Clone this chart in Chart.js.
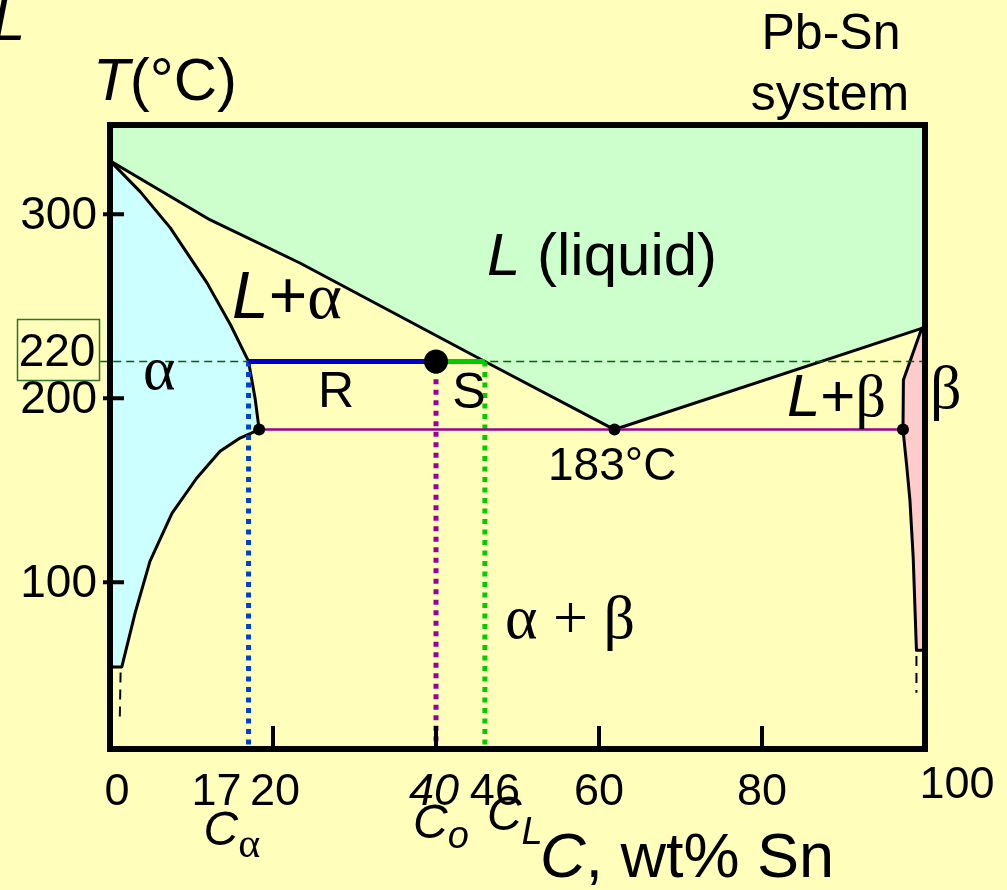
<!DOCTYPE html>
<html>
<head>
<meta charset="utf-8">
<title>Pb-Sn phase diagram</title>
<script src="https://cdn.jsdelivr.net/npm/chart.js@4.4.1/dist/chart.umd.min.js"></script>
<style>
  html, body { margin: 0; padding: 0; background: #ffffbb; }
  canvas { display: block; }
</style>
</head>
<body>
<canvas id="phase" width="1007" height="890"></canvas>
<script>
// Boundaries: composition in wt% Sn, temperature in °C
const liquidusC = [0, 12.3, 23.3, 46, 61.9, 99.6, 100];
const liquidusT = [329, 296.9, 273.5, 220, 183, 238, 238];

// alpha field: solidus down to the eutectic, then the solvus
const alphaC = [0, 3.7, 7.4, 11.9, 14.8, 17, 17.8, 18.3, 15.95, 13.5, 10.6, 7.6, 4.9, 3.1, 1.45, 0];
const alphaT = [329, 312.3, 292.6, 262.7, 239.8, 220, 200, 183, 178.4, 171.2, 156.4, 137.4, 111.4, 83.6, 54, 54];

// beta field
const betaC = [100, 99.6, 97.35, 97.3, 97.75, 98.15, 98.55, 98.95, 100];
const betaT = [238, 238, 209.9, 183, 163.5, 144.6, 113.5, 63, 63];

// dashed solvus continuations below the shaded fields
const alphaDashC = [1.3, 1.2];
const alphaDashT = [51, 26];
const betaDashC = [98.95, 98.95];
const betaDashT = [60, 40];

// eutectic isotherm and the tie line at 220 °C
const eutecticT = 183;
const eutecticC = [18.3, 61.9, 97.3];
const tieT = 220;
const cAlpha = 17;
const cO = 40;
const cL = 46;

const xTickValues = [0, 17, 20, 40, 46, 60, 80, 100];
const xTickMarks = [20, 40, 60, 80];
const yTickValues = [100, 200, 300];

const yMin = 9.4;
const yMax = 348.5;

const SANS = '"Liberation Sans", Arial, sans-serif';
const SERIF = '"Liberation Serif", "Times New Roman", serif';

function pts(cs, ts) {
    return cs.map((c, i) => ({ x: c, y: ts[i] }));
}

function seg(x1, y1, x2, y2) {
    return [{ x: x1, y: y1 }, { x: x2, y: y2 }];
}

// draw a row of differently styled text pieces, left to right
function runs(ctx, x, y, parts) {
    ctx.textAlign = 'left';
    ctx.textBaseline = 'alphabetic';
    parts.forEach(p => {
        ctx.font = p.f;
        ctx.fillText(p.t, x, y + (p.dy || 0));
        x += ctx.measureText(p.t).width;
    });
}

const framePlugin = {
    id: 'phaseFrame',
    afterDatasetsDraw(chart) {
        const ctx = chart.ctx;
        const a = chart.chartArea;
        const xs = chart.scales.x;
        const ys = chart.scales.y;
        ctx.save();
        ctx.strokeStyle = '#000';
        ctx.lineWidth = 6;
        ctx.strokeRect(a.left, a.top, a.right - a.left, a.bottom - a.top);

        // inward tick marks
        ctx.lineWidth = 4;
        ctx.beginPath();
        xTickMarks.forEach(v => {
            const px = xs.getPixelForValue(v);
            ctx.moveTo(px, a.bottom);
            ctx.lineTo(px, a.bottom - 23);
        });
        yTickValues.forEach(v => {
            const py = ys.getPixelForValue(v);
            ctx.moveTo(a.left - 7, py);
            ctx.lineTo(a.left + 14, py);
        });
        ctx.stroke();
        ctx.restore();
    },
    afterDraw(chart) {
        const ctx = chart.ctx;
        const xs = chart.scales.x;
        const ys = chart.scales.y;
        ctx.save();
        ctx.fillStyle = '#000';

        // axis titles and system name
        runs(ctx, -8, 40, [{ t: 'L', f: 'italic 60px ' + SANS }]);
        runs(ctx, 93, 100, [{ t: 'T', f: 'italic 60px ' + SANS }, { t: '(°C)', f: '60px ' + SANS }]);
        ctx.textAlign = 'center';
        ctx.font = '50px ' + SANS;
        ctx.fillText('Pb-Sn', 831, 49);
        ctx.fillText('system', 830, 110);

        // y tick labels
        ctx.textAlign = 'right';
        ctx.font = '46px ' + SANS;
        yTickValues.forEach(v => {
            ctx.fillText(String(v), 97, ys.getPixelForValue(v) + 15);
        });

        // boxed 220 label
        ctx.strokeStyle = '#2f6f2f';
        ctx.lineWidth = 1.5;
        ctx.strokeRect(17.5, 319.5, 82, 61);
        ctx.textAlign = 'center';
        ctx.fillText(String(tieT), 57, 366);

        // x tick labels
        const shift = { 0: 7, 17: -32, 20: 2, 40: -2, 46: 10, 100: 32 };
        ctx.textAlign = 'center';
        xTickValues.forEach(v => {
            const px = xs.getPixelForValue(v) + (shift[v] || 0);
            ctx.font = (v === cO ? 'italic ' : '') + '45px ' + SANS;
            ctx.fillText(String(v), px, v === 100 ? 798 : 805);
        });

        // composition symbols under the axis
        runs(ctx, xs.getPixelForValue(cAlpha) - 45, 845, [
            { t: 'C', f: 'italic 48px ' + SANS },
            { t: 'α', f: '42px ' + SERIF, dy: 12 }
        ]);
        runs(ctx, xs.getPixelForValue(cO) - 23, 838, [
            { t: 'C', f: 'italic 48px ' + SANS },
            { t: 'o', f: 'italic 38px ' + SANS, dy: 10 }
        ]);
        runs(ctx, xs.getPixelForValue(cL) + 2, 830, [
            { t: 'C', f: 'italic 48px ' + SANS },
            { t: 'L', f: 'italic 38px ' + SANS, dy: 14 }
        ]);
        runs(ctx, 540, 877, [
            { t: 'C', f: 'italic 63px ' + SANS },
            { t: ', wt% Sn', f: '63px ' + SANS }
        ]);

        // field labels
        runs(ctx, 143, 389, [{ t: 'α', f: '62px ' + SERIF }]);
        runs(ctx, 232, 318, [
            { t: 'L', f: 'italic 66px ' + SANS },
            { t: '+', f: '66px ' + SANS },
            { t: 'α', f: '66px ' + SERIF }
        ]);
        runs(ctx, 487, 275, [
            { t: 'L', f: 'italic 60px ' + SANS },
            { t: ' (liquid)', f: '60px ' + SANS }
        ]);
        ctx.textAlign = 'center';
        ctx.font = '50px ' + SANS;
        ctx.fillText('R', 336, 407);
        ctx.fillText('S', 469, 408);
        runs(ctx, 548, ys.getPixelForValue(eutecticT) + 50, [{ t: eutecticT + '°C', f: '46px ' + SANS }]);
        runs(ctx, 787, 416, [
            { t: 'L', f: 'italic 60px ' + SANS },
            { t: '+', f: '60px ' + SANS },
            { t: 'β', f: '60px ' + SERIF }
        ]);
        runs(ctx, 930, 408, [{ t: 'β', f: '62px ' + SERIF }]);
        runs(ctx, 505, 638, [{ t: 'α + β', f: '62px ' + SERIF }]);
        ctx.restore();
    }
};

const datasets = [
    // liquid field, filled up to the top of the frame
    { data: pts(liquidusC, liquidusT), fill: 'end', backgroundColor: '#ccffcc',
      borderColor: '#000', borderWidth: 3, order: 10 },
    { data: pts(alphaC, alphaT), fill: 'shape', backgroundColor: '#ccffff',
      borderColor: '#000', borderWidth: 3, order: 9 },
    { data: pts(betaC, betaT), fill: 'shape', backgroundColor: '#ffcccc',
      borderColor: '#000', borderWidth: 3, order: 9 },
    // 220 °C guide
    { data: seg(-1.2, tieT, 100, tieT), borderColor: '#006600', borderWidth: 1.5,
      borderDash: [8, 5], clip: false, order: 8 },
    // dotted drops to the composition axis
    { data: seg(cAlpha, tieT, cAlpha, yMin), borderColor: '#0040d0', borderWidth: 5,
      borderDash: [5, 5.5], order: 7 },
    { data: seg(cO, tieT - 4, cO, yMin), borderColor: '#990099', borderWidth: 5,
      borderDash: [5, 5.5], order: 7 },
    { data: seg(cL, tieT, cL, yMin), borderColor: '#00cc00', borderWidth: 5,
      borderDash: [5, 5.5], order: 7 },
    // eutectic isotherm
    { data: seg(eutecticC[0], eutecticT, eutecticC[2], eutecticT), borderColor: '#990099',
      borderWidth: 2.5, order: 6 },
    // tie line, R and S arms
    { data: seg(cAlpha, tieT, cO, tieT), borderColor: '#0000cc', borderWidth: 5, order: 5 },
    { data: seg(cO, tieT, cL, tieT), borderColor: '#00cc00', borderWidth: 5, order: 5 },
    { data: pts(alphaDashC, alphaDashT), borderColor: '#000', borderWidth: 2,
      borderDash: [10, 7], order: 5 },
    { data: pts(betaDashC, betaDashT), borderColor: '#000', borderWidth: 2,
      borderDash: [10, 7], order: 5 },
    // eutectic points and the alloy point
    { data: eutecticC.map(c => ({ x: c, y: eutecticT })), showLine: false,
      pointRadius: 6, pointBackgroundColor: '#000', pointBorderWidth: 0, order: 2 },
    { data: [{ x: cO, y: tieT }], showLine: false,
      pointRadius: 12, pointBackgroundColor: '#000', pointBorderWidth: 0, order: 1 }
];

new Chart(document.getElementById('phase'), {
    type: 'line',
    data: { datasets: datasets },
    options: {
        responsive: false,
        devicePixelRatio: 1,
        animation: false,
        events: [],
        layout: { padding: { left: 110, top: 125, right: 82, bottom: 141 } },
        elements: {
            line: { tension: 0, borderCapStyle: 'butt', borderJoinStyle: 'round' },
            point: { radius: 0 }
        },
        scales: {
            x: { type: 'linear', min: 0, max: 100, display: false },
            y: { type: 'linear', min: yMin, max: yMax, display: false }
        },
        plugins: {
            legend: { display: false },
            tooltip: { enabled: false }
        }
    },
    plugins: [framePlugin]
});
</script>
</body>
</html>
